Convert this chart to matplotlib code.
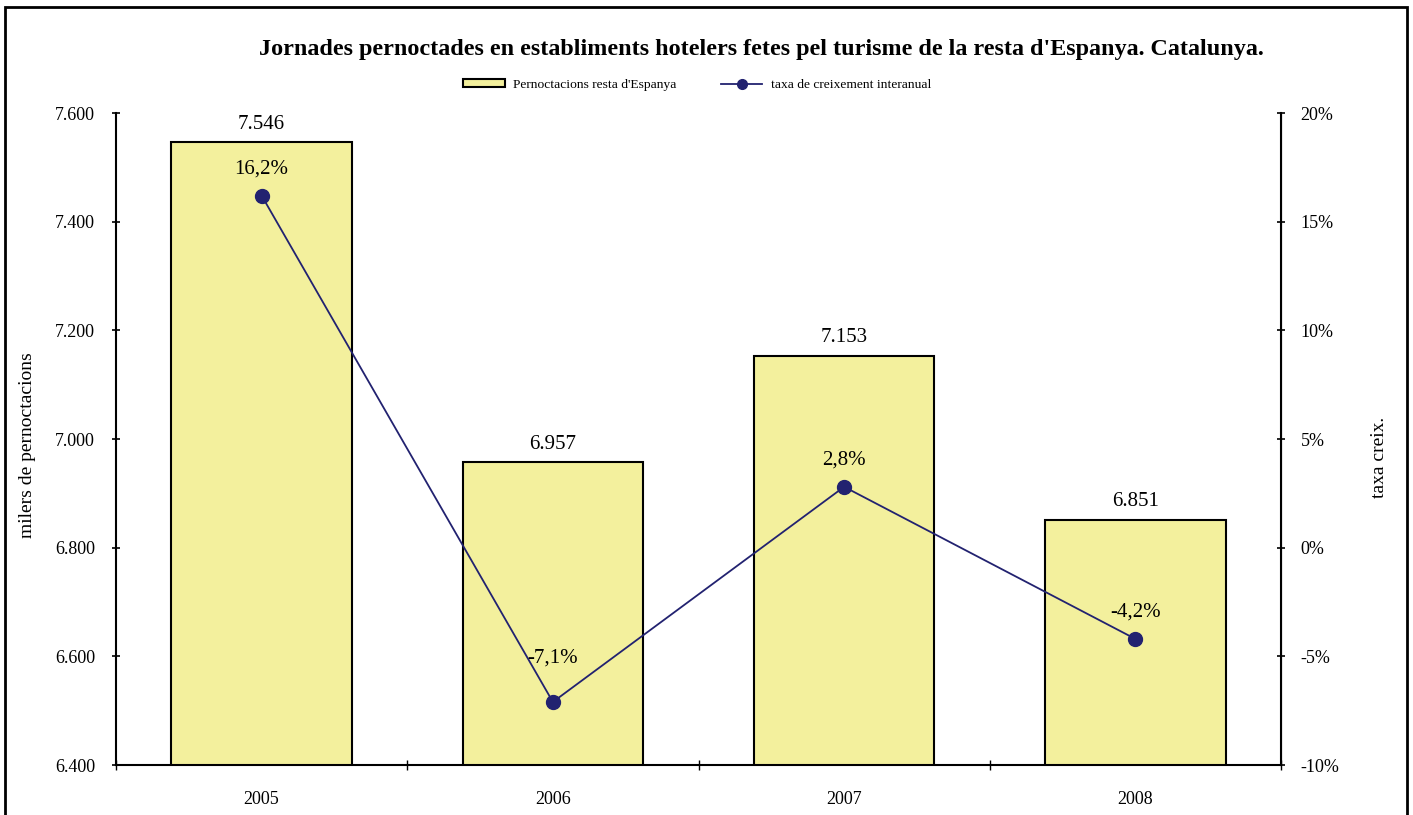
import matplotlib
matplotlib.use("Agg")
import matplotlib.pyplot as plt
from matplotlib.patches import Rectangle
from matplotlib.lines import Line2D
from matplotlib.ticker import FuncFormatter

years = ["2005", "2006", "2007", "2008"]
pernoctacions = [7546, 6957, 7153, 6851]
taxa = [16.2, -7.1, 2.8, -4.2]
left_ticks = [6400, 6600, 6800, 7000, 7200, 7400, 7600]
right_ticks = [-10, -5, 0, 5, 10, 15, 20]

plt.rcParams['font.family'] = ['Liberation Serif', 'DejaVu Serif']

W, H = 1413, 815
fig = plt.figure(figsize=(W / 100, H / 100), dpi=100)
fig.patch.set_facecolor('white')

# outer border
fig.patches.append(Rectangle((4.5 / W, -0.01), (1407 - 4.5) / W, 1 - 7.5 / H + 0.01,
                             transform=fig.transFigure, fill=False,
                             edgecolor='black', linewidth=2, zorder=0))

ax = fig.add_axes([116 / W, 1 - 765 / H, (1281 - 116) / W, (765 - 113) / H])
ax2 = ax.twinx()

bar_color = '#F3F09D'
line_color = '#222270'

x = list(range(len(years)))
ax.bar(x, pernoctacions, width=0.62, color=bar_color, edgecolor='black', linewidth=1.5, zorder=2)
ax.set_xlim(-0.5, 3.5)
ax.set_ylim(left_ticks[0], left_ticks[-1])
ax.set_yticks(left_ticks)
ax.yaxis.set_major_formatter(FuncFormatter(lambda v, p: f"{v/1000:.3f}"))
ax.set_xticks([i + 0.5 for i in range(-1, 4)])
ax.set_xticklabels([])
ax.set_xticks(x, minor=True)
ax.set_xticklabels(years, minor=True, fontsize=13)
ax.tick_params(axis='x', which='minor', length=0, pad=19)
ax.tick_params(axis='x', which='major', direction='inout', length=7, width=1)
ax.tick_params(axis='y', direction='inout', length=6, width=1.2, labelsize=13, pad=12)
ax.set_ylabel("milers de pernoctacions", fontsize=14)
ax.yaxis.set_label_coords((36 - 116) / 1165, (765 - 445) / 652)
ax.spines['top'].set_visible(False)
ax.spines['left'].set_linewidth(1.5)
ax.spines['bottom'].set_linewidth(1.5)

for xi, v in zip(x, pernoctacions):
    ax.text(xi, v + 16, f"{v/1000:.3f}", ha='center', va='bottom', fontsize=15)

ax2.plot(x, taxa, color=line_color, linewidth=1.3, marker='o', markersize=10, zorder=3)
ax2.set_ylim(right_ticks[0], right_ticks[-1])
ax2.set_yticks(right_ticks)
ax2.yaxis.set_major_formatter(FuncFormatter(lambda v, p: f"{int(v)}%"))
ax2.tick_params(axis='y', direction='inout', length=6, width=1.2, labelsize=13, pad=11)
ax2.set_ylabel("taxa creix.", fontsize=14, rotation=90)
ax2.yaxis.set_label_position('right')
ax2.yaxis.set_label_coords((1371 - 116) / 1165, (765 - 457) / 652)
for s in ['top', 'left', 'bottom']:
    ax2.spines[s].set_visible(False)
ax2.spines['right'].set_linewidth(1.5)

label_offsets_pt = [12.5, 24.5, 12.5, 12.5]
for xi, v, off in zip(x, taxa, label_offsets_pt):
    ax2.annotate(f"{v:.1f}%".replace('.', ','), (xi, v), xytext=(0, off),
                 textcoords='offset points', ha='center', va='bottom', fontsize=15)

fig.text(761 / W, 1 - 50 / H,
         "Jornades pernoctades en establiments hotelers fetes pel turisme de la resta d'Espanya. Catalunya.",
         ha='center', va='center', fontsize=17.4, fontweight='bold')

handles = [Rectangle((0, 0), 1, 1, facecolor=bar_color, edgecolor='black', linewidth=1.5),
           Line2D([0], [0], color=line_color, marker='o', markersize=7, linewidth=1.3)]
fig.legend(handles, ["Pernoctacions resta d'Espanya", "taxa de creixement interanual"],
           loc='center', bbox_to_anchor=(697 / W, 1 - 85 / H), ncol=2, frameon=False,
           fontsize=9.7, handlelength=3.1, handleheight=0.5, columnspacing=3.3,
           handletextpad=0.6)

fig.savefig("out.png", dpi=100)
